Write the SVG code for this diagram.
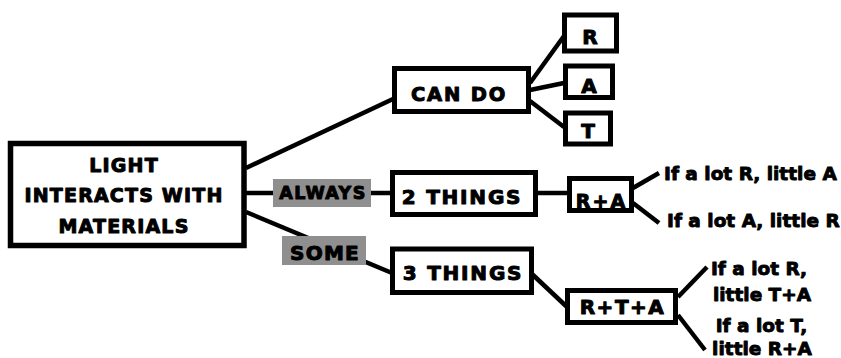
<svg xmlns="http://www.w3.org/2000/svg" width="841" height="358" viewBox="0 0 841 358">
<style>
.box{fill:#fff;stroke:#000;stroke-width:5}
.lbl{fill:#8f8f8f;stroke:none}
.t{font-family:"DejaVu Sans","Liberation Sans",sans-serif;font-weight:bold;fill:#000;stroke:#000;stroke-width:1px;stroke-linejoin:round;text-anchor:middle}
.m{font-size:19px;letter-spacing:1.2px}
.n{font-size:20px;letter-spacing:1.8px}
.s{font-family:"DejaVu Sans","Liberation Sans",sans-serif;font-weight:bold;fill:#000;stroke:#000;stroke-width:0.9px;stroke-linejoin:round;font-size:18.5px}
.c line{stroke:#000;stroke-width:4.5;stroke-linecap:butt}
</style>
<rect width="841" height="358" fill="#fff"/>
<g class="c" id="connectors">
<line x1="246" y1="168" x2="393" y2="99"/>
<line x1="246" y1="193" x2="392" y2="193"/>
<line x1="246" y1="212" x2="392" y2="273"/>
<line x1="530" y1="83" x2="564" y2="36"/>
<line x1="530" y1="90" x2="564" y2="83"/>
<line x1="530" y1="101" x2="564" y2="127"/>
<line x1="537" y1="193" x2="568" y2="193"/>
<line x1="633" y1="188" x2="659" y2="173"/>
<line x1="633" y1="203" x2="659" y2="223"/>
<line x1="532" y1="274" x2="567" y2="307"/>
<line x1="678" y1="297" x2="707" y2="267"/>
<line x1="678" y1="315" x2="705" y2="350"/>
</g>
<g id="light">
<rect class="box" x="10.5" y="143.5" width="233.5" height="102" style="stroke-width:5.5"/>
<text class="t m" x="124" y="172">LIGHT</text>
<text class="t m" x="124" y="202">INTERACTS WITH</text>
<text class="t m" x="124" y="233">MATERIALS</text>
</g>
<g id="always">
<rect class="lbl" x="273" y="179" width="98" height="28"/>
<text class="t" x="323" y="199" style="font-size:17.5px;letter-spacing:1.4px">ALWAYS</text>
</g>
<g id="some">
<rect class="lbl" x="282" y="236" width="84" height="29"/>
<text class="t" x="325" y="259.5" style="font-size:20px;letter-spacing:1.2px">SOME</text>
</g>
<g id="cando">
<rect class="box" x="394.5" y="68.5" width="134" height="43"/>
<text class="t n" x="459" y="101" style="font-size:19.5px">CAN DO</text>
</g>
<g id="r">
<rect class="box" x="564.5" y="15" width="52" height="36"/>
<text class="t" x="590" y="43.5" style="font-size:20px">R</text>
</g>
<g id="a">
<rect class="box" x="565.5" y="66" width="47" height="31.5"/>
<text class="t" x="589" y="93" style="font-size:20px">A</text>
</g>
<g id="t">
<rect class="box" x="565.5" y="113" width="45" height="31"/>
<text class="t" x="588" y="138" style="font-size:20px">T</text>
</g>
<g id="two">
<rect class="box" x="392.5" y="172.5" width="143" height="42"/>
<text class="t n" x="462" y="203.5">2 THINGS</text>
</g>
<g id="ra">
<rect class="box" x="569.5" y="178.5" width="62" height="32"/>
<text class="t" x="601.5" y="207.5" style="font-size:19px;letter-spacing:2px">R+A</text>
</g>
<g id="ra-out">
<text class="s" x="664" y="180">If a lot R, little A</text>
<text class="s" x="667" y="226.5">If a lot A, little R</text>
</g>
<g id="three">
<rect class="box" x="392.5" y="249" width="139" height="43.5"/>
<text class="t n" x="463" y="279.5">3 THINGS</text>
</g>
<g id="rta">
<rect class="box" x="567.5" y="290.5" width="108" height="32"/>
<text class="t" x="622.5" y="313.5" style="font-size:20px;letter-spacing:1.5px">R+T+A</text>
</g>
<g id="rta-out">
<text class="s" x="759" y="275" text-anchor="middle">If a lot R,</text>
<text class="s" x="762" y="301" text-anchor="middle">little T+A</text>
<text class="s" x="761.5" y="331.5" text-anchor="middle">If a lot T,</text>
<text class="s" x="762" y="355" text-anchor="middle">little R+A</text>
</g>
</svg>
